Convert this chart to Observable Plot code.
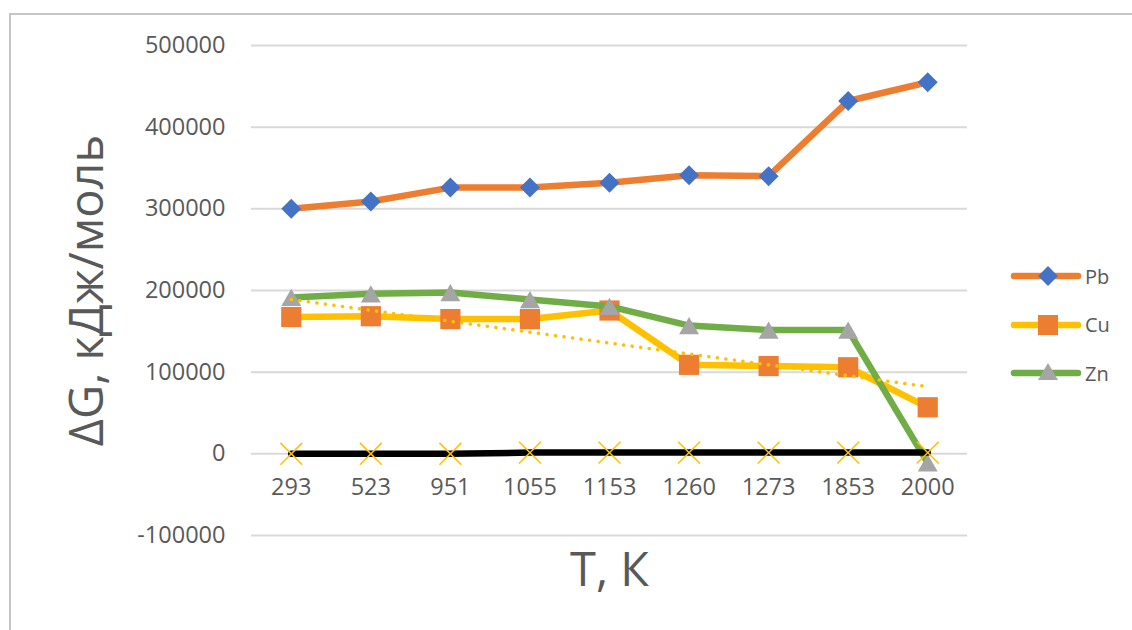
<!DOCTYPE html>
<html>
<head>
<meta charset="utf-8">
<script src="https://cdn.jsdelivr.net/npm/d3@7"></script>
<script src="https://cdn.jsdelivr.net/npm/@observablehq/plot@0.6"></script>
<style>
  html, body { margin: 0; padding: 0; background: #fff; overflow: hidden; }
  #wrap { position: relative; width: 1132px; height: 630px; font-family: "Open Sans", sans-serif; }
  #frame { position: absolute; left: 9px; top: 13px; width: 1200px; height: 700px;
           border-left: 2px solid #c6c6c6; border-top: 2px solid #c6c6c6; box-sizing: border-box; }
  #chart { position: absolute; left: 0; top: 0; }
  #legend { position: absolute; left: 1010px; top: 252px; }
  .item { display: flex; align-items: center; height: 48.5px; }
  .item span { font-size: 20px; color: #595959; margin-left: 3px; }
</style>
</head>
<body>
<div id="wrap">
  <div id="frame"></div>
  <div id="chart"></div>
  <div id="legend"></div>
</div>
<script>
// Temperatures (category axis) and ΔG per metal
const temps = ["293", "523", "951", "1055", "1153", "1260", "1273", "1853", "2000"];
const pb = [300000, 309000, 326000, 326000, 332000, 341000, 340000, 432000, 455000];
const cu = [167500, 168500, 165000, 165000, 175500, 109000, 107500, 106000, 57000];
const zn = [191500, 196000, 197500, 189000, 180500, 157000, 151500, 151500, -11000];
const base = [0, 0, 0, 1500, 1500, 1500, 1500, 1500, 1500];
const yTicks = [-100000, 0, 100000, 200000, 300000, 400000, 500000];

const seriesNames = ["Pb", "Cu", "Zn"];
const lineColors = ["#ED7D31", "#FFC000", "#70AD47"];
const markColors = ["#4472C4", "#ED7D31", "#A5A5A5"];

const rows = vals => vals.map((v, i) => ({i, v}));
const pbRows = rows(pb), cuRows = rows(cu), znRows = rows(zn), baseRows = rows(base);
const tickRows = temps.map((t, i) => ({i, t}));

const lineOpts = {x: "i", y: "v", strokeWidth: 6.5, strokeLinejoin: "round", strokeLinecap: "round"};

const chart = Plot.plot({
  width: 1132,
  height: 630,
  marginLeft: 251,
  marginRight: 165,
  marginTop: 45,
  marginBottom: 95,
  style: {fontFamily: "'Open Sans', sans-serif", color: "#595959", background: "transparent"},
  x: {type: "linear", domain: [-0.5, 8.5], axis: null},
  y: {domain: [-100000, 500000], ticks: yTicks, label: null},
  marks: [
    Plot.ruleY(yTicks, {stroke: "#d9d9d9", strokeWidth: 2}),
    Plot.axisY(yTicks, {tickSize: 0, tickPadding: 26, fontSize: 23.5, tickFormat: d => String(d), fill: "#595959", label: null}),
    Plot.text(tickRows, {x: "i", y: 0, text: "t", dy: 34, fontSize: 23.5, fill: "#595959"}),

    // Pb
    Plot.line(pbRows, {...lineOpts, stroke: lineColors[0]}),
    Plot.dot(pbRows, {x: "i", y: "v", symbol: "diamond2", r: 9, fill: markColors[0], stroke: "none"}),
    // Cu
    Plot.line(cuRows, {...lineOpts, stroke: lineColors[1]}),
    Plot.dot(cuRows, {x: "i", y: "v", symbol: "square", r: 11.4, fill: markColors[1], stroke: "none"}),
    // Zn
    Plot.line(znRows, {...lineOpts, stroke: lineColors[2]}),
    Plot.dot(znRows, {x: "i", y: "v", symbol: "triangle", r: 7.4, dy: 2.9, fill: markColors[2], stroke: "none"}),
    // zero reference series
    Plot.line(baseRows, {x: "i", y: "v", stroke: "#000", strokeWidth: 6.5}),
    Plot.dot(baseRows, {x: "i", y: "v", symbol: "times", r: 10, stroke: "#FFC000", strokeWidth: 1.5}),
    // linear trend of Cu
    Plot.linearRegressionY(cuRows, {x: "i", y: "v", stroke: "#FFC000", strokeWidth: 3.5,
      strokeDasharray: "0.1,8.5", strokeLinecap: "round", ci: 0}),

    // axis titles
    Plot.text(["ΔG, кДж/моль"], {frameAnchor: "left", textAnchor: "middle", lineAnchor: "middle",
      dx: -164, rotate: -90, fontSize: 47, fill: "#595959"}),
    Plot.text(["T, К"], {frameAnchor: "bottom", textAnchor: "middle", lineAnchor: "middle",
      dy: 35, fontSize: 47, fill: "#595959"})
  ]
});
document.getElementById("chart").appendChild(chart);

// legend
const legend = document.getElementById("legend");
const symbols = [
  '<rect x="31" y="8" width="14" height="14" transform="rotate(45 38 15)" fill="#4472C4"/>',
  '<rect x="28" y="5" width="20" height="20" fill="#ED7D31"/>',
  '<path d="M38,5 L48,22 L28,22 Z" fill="#A5A5A5"/>'
];
seriesNames.forEach((name, k) => {
  const div = document.createElement("div");
  div.className = "item";
  div.innerHTML = `<svg width="72" height="30"><line x1="4" y1="15" x2="68" y2="15" stroke="${lineColors[k]}" stroke-width="6.5" stroke-linecap="round"/>${symbols[k]}</svg><span>${name}</span>`;
  legend.appendChild(div);
});
</script>
</body>
</html>
